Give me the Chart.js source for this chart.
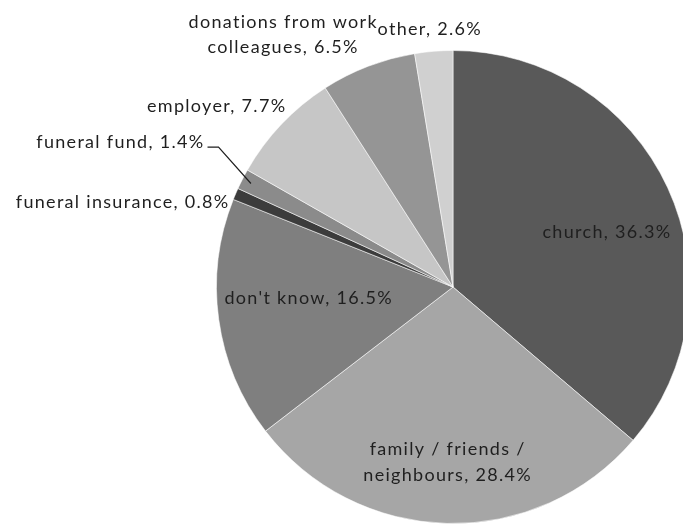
<!DOCTYPE html>
<html>
<head>
<meta charset="utf-8">
<title>Funeral funding sources</title>
<script src="https://cdn.jsdelivr.net/npm/chart.js@4.4.1/dist/chart.umd.min.js"></script>
<style>
  html, body { margin: 0; padding: 0; background: #ffffff; overflow: hidden; }
  #wrap { position: absolute; left: 0; top: 0; width: 700px; height: 540px; }
</style>
</head>
<body>
<div id="wrap"><canvas id="fundingChart"></canvas></div>
<script>
// Slices run clockwise from 12 o'clock
const categories = [
  'church',
  ['family / friends /', 'neighbours'],
  "don't know",
  'funeral insurance',
  'funeral fund',
  'employer',
  ['donations from work', 'colleagues'],
  'other'
];
const shares = [36.3, 28.4, 16.5, 0.8, 1.4, 7.7, 6.5, 2.6];
const sliceColors = ['#595959', '#a6a6a6', '#7f7f7f', '#3c3c3c', '#8b8b8b', '#c6c6c6', '#959595', '#d0d0d0'];

// Label placement: k = fraction of radius along the slice bisector, then a nudge
const labelLayout = [
  { k: 0.68, dx: 8,   dy: 13,  align: 'center' },
  { k: 0.73, dx: -1,  dy: 3,   align: 'center' },
  { k: 0.62, dx: 1,   dy: -9,  align: 'center' },
  { k: 1.0,  dx: -6,  dy: 8,   align: 'right' },
  { k: 1.0,  dx: -38, dy: -37, align: 'right', leader: true },
  { k: 1.0,  dx: 5,   dy: -18, align: 'right' },
  { k: 1.0,  dx: -85, dy: -32, align: 'center' },
  { k: 1.0,  dx: -4,  dy: -22, align: 'center' }
];

const FONT = "18px Lato, 'Open Sans', sans-serif";
const LINE_H = 25;

const sliceLabels = {
  id: 'sliceLabels',
  afterDatasetsDraw(chart) {
    const { ctx } = chart;
    const arcs = chart.getDatasetMeta(0).data;
    ctx.save();
    ctx.font = FONT;
    ctx.letterSpacing = '1.3px';
    ctx.fillStyle = '#1f1f1f';
    ctx.textBaseline = 'middle';
    arcs.forEach((arc, i) => {
      const { x, y, startAngle, endAngle, outerRadius } = arc.getProps(['x', 'y', 'startAngle', 'endAngle', 'outerRadius'], true);
      const mid = (startAngle + endAngle) / 2;
      const cfg = labelLayout[i];
      const ax = x + Math.cos(mid) * outerRadius * cfg.k;
      const ay = y + Math.sin(mid) * outerRadius * cfg.k;
      const tx = ax + cfg.dx;
      const ty = ay + cfg.dy;

      let lines = Array.isArray(categories[i]) ? categories[i].slice() : [categories[i]];
      lines[lines.length - 1] += ', ' + shares[i].toFixed(1) + '%';

      ctx.textAlign = (cfg.align === 'right' && lines.length === 1) ? 'right' : 'center';
      const lh = i === 1 ? 26 : LINE_H;
      const top = ty - (lines.length - 1) * lh / 2;
      lines.forEach((ln, j) => ctx.fillText(ln, tx, top + j * lh));

      if (cfg.leader) {
        const ex = x + Math.cos(mid) * outerRadius * 0.96;
        const ey = y + Math.sin(mid) * outerRadius * 0.96;
        ctx.beginPath();
        ctx.strokeStyle = '#1f1f1f';
        ctx.lineWidth = 1.2;
        ctx.moveTo(tx + 3, ty + 5);
        ctx.lineTo(tx + 14, ty + 5);
        ctx.lineTo(ex, ey);
        ctx.stroke();
      }
    });
    ctx.restore();
  }
};

new Chart(document.getElementById('fundingChart'), {
  type: 'pie',
  data: {
    labels: categories,
    datasets: [{
      data: shares,
      backgroundColor: sliceColors,
      borderColor: 'rgba(255, 255, 255, 0.55)',
      borderWidth: 1,
      hoverOffset: 0
    }]
  },
  options: {
    responsive: true,
    maintainAspectRatio: false,
    animation: false,
    events: [],
    layout: { padding: { left: 216, top: 50, right: 10, bottom: 16 } },
    plugins: {
      legend: { display: false },
      tooltip: { enabled: false }
    }
  },
  plugins: [sliceLabels]
});
</script>
</body>
</html>
